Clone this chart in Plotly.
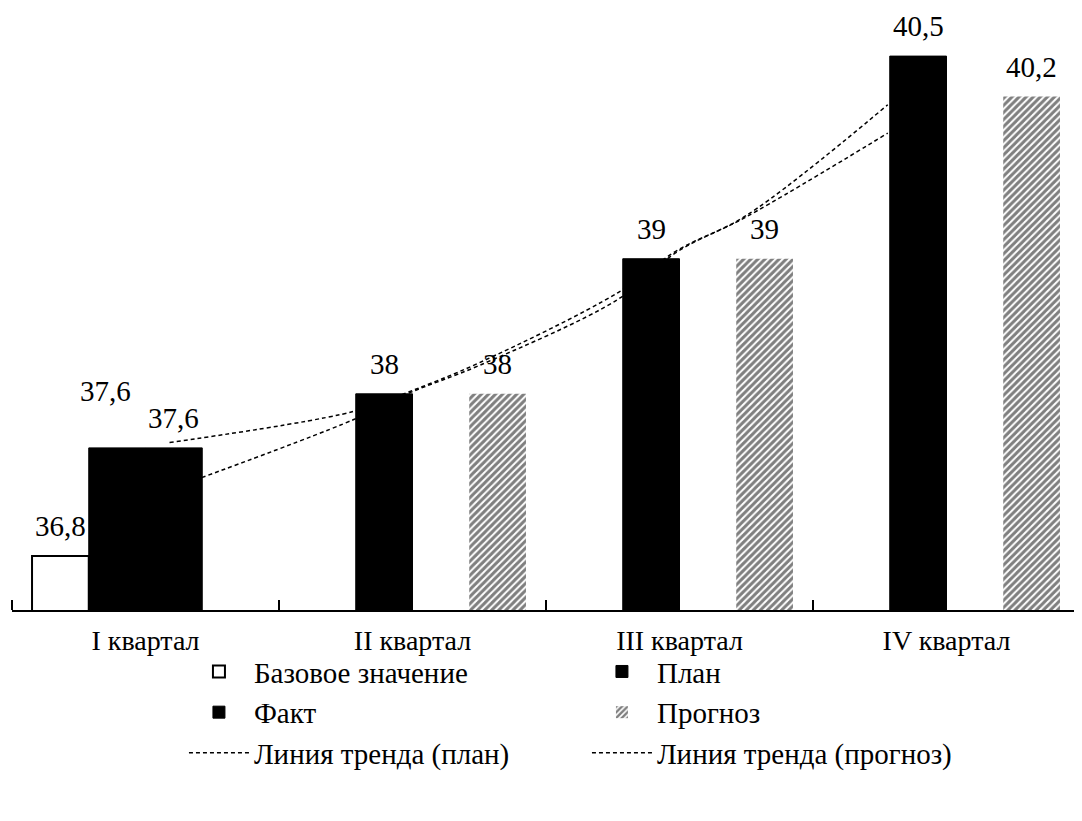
import plotly.graph_objects as go

# ---- data ----
categories = ["I квартал", "II квартал", "III квартал", "IV квартал"]
base_vals = [36.8, None, None, None]
plan_vals = [37.6, 38, 39, 40.5]
fact_vals = [37.6, None, None, None]
forecast_vals = [None, 38, 39, 40.2]

# trend lines (x in category-index units)
trend_plan_x = [0.09, 0.78, 0.98, 1.25, 1.77, 1.99, 2.25, 2.78]
trend_plan_y = [37.64, 37.87, 38.01, 38.23, 38.75, 39.06, 39.32, 40.14]
trend_fc_x = [0.21, 0.78, 0.98, 1.25, 1.77, 1.99, 2.25, 2.78]
trend_fc_y = [37.38, 37.81, 38.00, 38.21, 38.70, 39.05, 39.31, 39.93]

series_names = ["Базовое значение", "План", "Факт", "Прогноз"]
trend_names = ["Линия тренда (план)", "Линия тренда (прогноз)"]

FONT = "Liberation Serif"
YMIN, YMAX = 36.4, 40.856
BARGAP = 0.15
xpos = list(range(len(categories)))

fig = go.Figure()

bar_series = [base_vals, plan_vals, fact_vals, forecast_vals]
bar_styles = [
    dict(color="white", line=dict(color="black", width=2)),
    dict(color="black", line=dict(color="black", width=1)),
    dict(color="black", line=dict(color="black", width=1)),
    dict(color="white", line=dict(color="white", width=0),
         pattern=dict(shape="/", fgcolor="black", bgcolor="white", size=5, solidity=0.6)),
]
for name, vals, st in zip(series_names, bar_series, bar_styles):
    fig.add_trace(go.Bar(x=xpos, y=vals, name=name, marker=st,
                         xaxis="x2", yaxis="y2"))

for name, tx, ty in zip(trend_names, [trend_plan_x, trend_fc_x], [trend_plan_y, trend_fc_y]):
    fig.add_trace(go.Scatter(x=tx, y=ty, name=name, mode="lines",
                             line=dict(color="black", width=1.5, dash="4px,3px", shape="spline"),
                             xaxis="x", yaxis="y"))

# value labels
barw = (1 - BARGAP) / len(bar_series)
label_adjust = {(1, 0): (-12, 27)}  # manual nudge for one label (series, category)
annotations = []
for j, vals in enumerate(bar_series):
    for i, v in enumerate(vals):
        if v is None:
            continue
        dx, dy = label_adjust.get((j, i), (0, 0))
        annotations.append(dict(
            x=i + (j - (len(bar_series) - 1) / 2) * barw, y=v, xref="x", yref="y",
            text=f"{v:g}".replace(".", ","), showarrow=False,
            yanchor="middle", yshift=30 + dy, xshift=dx,
            font=dict(family=FONT, size=29, color="black")))

axis_range = [-0.5, len(categories) - 0.5]
boundaries = [k - 0.5 for k in range(len(categories) + 1)]

fig.update_layout(
    width=1074, height=813,
    margin=dict(l=4, r=2, t=0, b=211, autoexpand=False),
    paper_bgcolor="white", plot_bgcolor="white",
    barmode="group", bargap=BARGAP, bargroupgap=0,
    font=dict(family=FONT, size=29, color="black"),
    xaxis=dict(range=axis_range, tickvals=xpos, ticktext=categories,
               showline=True, linecolor="black", linewidth=1.5,
               ticks="", showgrid=False, zeroline=False, automargin=False,
               ticklabelstandoff=5,
               tickfont=dict(family=FONT, size=28, color="black"),
               minor=dict(tickvals=boundaries, ticks="inside", ticklen=10,
                          tickcolor="black", tickwidth=1.5, showgrid=False)),
    yaxis=dict(range=[YMIN, YMAX], visible=False, showgrid=False, zeroline=False),
    xaxis2=dict(range=axis_range, overlaying="x", visible=False, showgrid=False, zeroline=False),
    yaxis2=dict(range=[YMIN, YMAX], overlaying="y", visible=False, showgrid=False, zeroline=False),
    showlegend=True,
    legend=dict(orientation="h", x=0.161, xanchor="left", y=-0.06, yanchor="top",
                entrywidth=328, entrywidthmode="pixels", itemwidth=60,
                traceorder="normal", tracegroupgap=0,
                font=dict(family=FONT, size=29, color="black"),
                bgcolor="rgba(0,0,0,0)"),
    annotations=annotations,
)

fig.write_html("out.html")
